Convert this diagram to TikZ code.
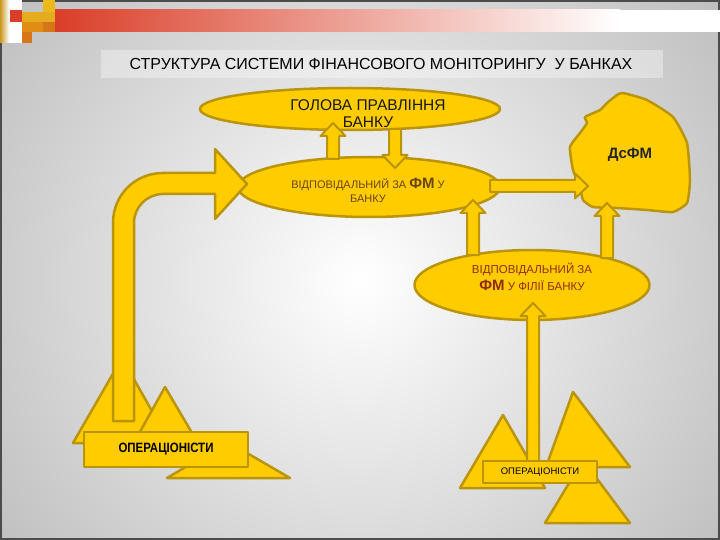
\documentclass[tikz,border=0pt]{standalone}
\usepackage{fontspec}
\setmainfont{Liberation Sans}
\newfontfamily\narrowfont[FakeStretch=0.85]{Liberation Sans}
\usetikzlibrary{shapes.geometric}

\definecolor{fmgold}{RGB}{255,204,0}
\definecolor{fmedge}{RGB}{186,148,10}
\definecolor{fmbrown}{RGB}{105,70,20}
\definecolor{fmred}{RGB}{145,45,20}
\definecolor{barred}{RGB}{218,62,40}
\definecolor{sqgold}{RGB}{230,172,32}
\definecolor{sqyellow}{RGB}{235,185,25}
\definecolor{sqorange}{RGB}{225,140,20}
\definecolor{sqdark}{RGB}{215,118,25}
\definecolor{stripgold}{RGB}{200,150,30}

% block arrows: {x}{tail y}{tip y} and {y}{tail x}{tip x}
\newcommand{\fmup}[3]{\filldraw[fmarrow] (#1-6,#2) -- (#1-6,#3+13) -- (#1-12.5,#3+13) -- (#1,#3) -- (#1+12.5,#3+13) -- (#1+6,#3+13) -- (#1+6,#2) -- cycle;}
\newcommand{\fmdown}[3]{\filldraw[fmarrow] (#1-6,#2) -- (#1-6,#3-13) -- (#1-12.5,#3-13) -- (#1,#3) -- (#1+12.5,#3-13) -- (#1+6,#3-13) -- (#1+6,#2) -- cycle;}
\newcommand{\fmright}[3]{\filldraw[fmarrow] (#2,#1-6) -- (#3-13,#1-6) -- (#3-13,#1-12.5) -- (#3,#1) -- (#3-13,#1+12.5) -- (#3-13,#1+6) -- (#2,#1+6) -- cycle;}

\begin{document}
\begin{tikzpicture}[
    x=1pt, y=-1pt,
    fmshape/.style={fill=fmgold, draw=fmedge, line width=2.5pt, line join=round},
    fmarrow/.style={fmshape, line width=2pt},
    fmell/.style={ellipse, fmshape, inner sep=0pt},
    fmbox/.style={rectangle, fmshape, inner sep=0pt},
    fmtext/.style={align=center, inner sep=0pt}
    ]
    \useasboundingbox (0,0) rectangle (720,540);

    % slide background
    \fill[black!42] (0,0) rectangle (720,540);
    \begin{scope}
        \clip (0,0) rectangle (720,540);
        \shade[inner color=white, outer color=black!42] (360,280) circle (760);
    \end{scope}
    \draw[black!70, line width=1.5pt] (1,1) rectangle (719,539);

    % top bar and squares
    \shade[left color=barred, right color=white] (55,10) rectangle (620,32);
    \fill[white] (620,10) rectangle (720,32);
    \shade[left color=stripgold, right color=white] (0,0) rectangle (9,43);
    \fill[white] (9,0) rectangle (22,43);
    \fill[barred] (10,10) rectangle (22,22);
    \fill[sqgold] (22,12) rectangle (32,22);
    \fill[sqorange] (22,22) rectangle (32,32);
    \fill[sqdark] (22,32) rectangle (32,43);
    \fill[sqgold] (32,12) rectangle (43,22);
    \fill[sqorange] (32,22) rectangle (43,32);
    \fill[sqyellow] (43,0) rectangle (55,12);
    \fill[sqgold] (43,12) rectangle (55,22);
    \fill[sqdark] (43,22) rectangle (55,32);

    % title
    \fill[white, opacity=0.35] (101,50) rectangle (663,78);
    \node[font=\fontsize{16}{19}\selectfont] (title) at (381,64) {СТРУКТУРА СИСТЕМИ ФІНАНСОВОГО МОНІТОРИНГУ\ \ У БАНКАХ};

    % levels
    \node[fmell, minimum width=300pt, minimum height=42pt] (board) at (350,109) {};
    \node[fmell, minimum width=262pt, minimum height=60pt] (bank) at (369,187) {};
    \filldraw[fmshape] plot[smooth cycle, tension=0.3] coordinates {
        (623,93) (647,100) (673,117) (687,143) (690,180) (687,203) (673,212)
        (647,210) (617,208) (593,207) (583,200) (580,187) (573,170) (570,147)
        (580,133) (587,123) (585,117) (600,110) (607,103) (617,95)};
    \node[fmell, minimum width=235pt, minimum height=70pt] (branch) at (532,285) {};

    % links
    \fmup{333}{159}{123}
    \fmdown{395}{129}{168}
    \fmright{186}{490}{588}
    \fmup{473}{255}{200}
    \fmup{607}{258}{203}

    % operators of the bank
    \filldraw[fmshape] (73,443) -- (122,358) -- (170,443) -- cycle;
    \filldraw[fmshape] (127,455) -- (165,387) -- (205,455) -- cycle;
    \filldraw[fmshape] (167,478) -- (228,442) -- (290,478) -- cycle;
    \filldraw[fmshape] (113,421) -- (113,223) .. controls (113,195) and (135,173) .. (163,173)
        -- (215,173) -- (215,149) -- (247,184) -- (215,219) -- (215,194) -- (163,194)
        .. controls (147,194) and (134,207) .. (134,223) -- (134,421) -- cycle;
    \node[fmbox, minimum width=164pt, minimum height=35pt,
        font=\narrowfont\bfseries\fontsize{13.5}{16}\selectfont] (opsbank) at (166,449.5) {ОПЕРАЦІОНІСТИ};

    % operators of the branch
    \filldraw[fmshape] (545,523) -- (583,460) -- (630,523) -- cycle;
    \filldraw[fmshape] (546,467) -- (573,392) -- (630,467) -- cycle;
    \filldraw[fmshape] (460,488) -- (503,415) -- (545,488) -- cycle;
    \fmup{533}{470}{303}
    \node[fmbox, minimum width=114pt, minimum height=22pt,
        font=\fontsize{9.5}{11}\selectfont] (opsbranch) at (540,472) {ОПЕРАЦІОНІСТИ};

    % texts
    \node[fmtext, font=\fontsize{15.5}{17}\selectfont, text=black!90] (boardtxt) at (368,114)
        {ГОЛОВА ПРАВЛІННЯ\\БАНКУ};
    \node[fmtext, font=\fontsize{11}{14}\selectfont, text=fmbrown] (banktxt) at (368,190)
        {ВІДПОВІДАЛЬНИЙ ЗА {\fontsize{15}{14}\selectfont\bfseries ФМ} У\\БАНКУ};
    \node[fmtext, font=\fontsize{11.5}{17}\selectfont, text=fmred] (branchtxt) at (532,277)
        {ВІДПОВІДАЛЬНИЙ ЗА\\{\fontsize{15}{17}\selectfont\bfseries ФМ} У ФІЛІЇ БАНКУ};
    \node[font=\bfseries\fontsize{15}{18}\selectfont, text=black!85] (dsfm) at (630,155) {ДсФМ};
\end{tikzpicture}
\end{document}
